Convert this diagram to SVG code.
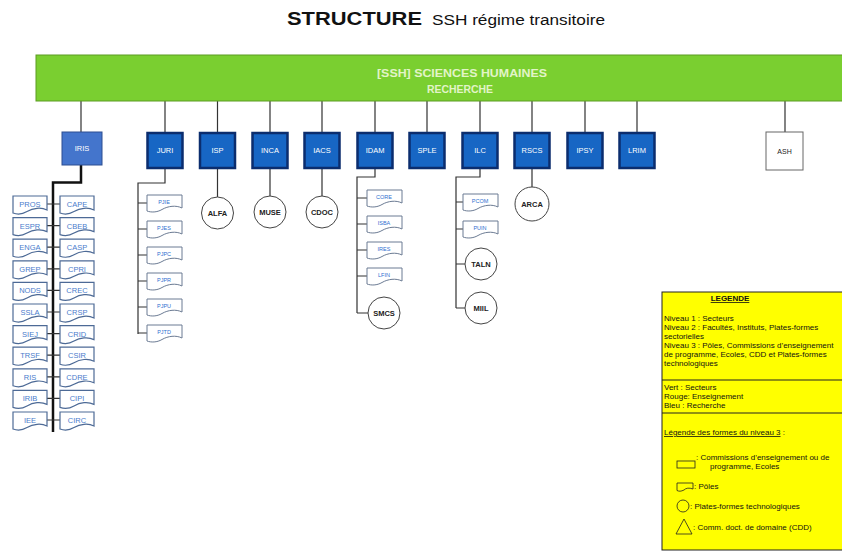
<svg xmlns="http://www.w3.org/2000/svg" xmlns:xlink="http://www.w3.org/1999/xlink" width="842" height="554" viewBox="0 0 842 554">
<style>
text{font-family:"Liberation Sans",Arial,sans-serif}
.l2{fill:#1766c4;stroke:#0b2d6e;stroke-width:2.5}
.l2t{fill:#ffffff;font-size:7.5px;text-anchor:middle}
.doc{fill:#ffffff;stroke:#4d6a96;stroke-width:1.2}
.docs{fill:#ffffff;stroke:#6b7b93;stroke-width:1}
.dt{fill:#4a7ccc;font-size:7.5px;text-anchor:middle}
.dts{fill:#2f6fd0;font-size:5.5px;text-anchor:middle}
.circ{fill:#ffffff;stroke:#444;stroke-width:1}
.ct{fill:#222;font-size:7.5px;font-weight:bold;text-anchor:middle}
.con{fill:none;stroke:#333;stroke-width:1.2}
.trunk{fill:none;stroke:#111;stroke-width:2.5}
.lg{fill:#111;font-size:8px}
</style>
<defs>
<path id="docA" d="M0 0 H34 V14 C28 11 20 12 14 15.5 C9 18.5 4 18.5 0 17 Z"/>
<path id="docB" d="M0 0 H35 V13 C29 10 21 11 15 14.5 C10 17.5 4 17.5 0 16 Z"/>
</defs>

<g id="title">
<text x="287" y="25" font-size="18" font-weight="bold" fill="#111" textLength="135" lengthAdjust="spacingAndGlyphs">STRUCTURE</text>
<text x="432" y="25" font-size="14" fill="#111" textLength="173" lengthAdjust="spacingAndGlyphs">SSH régime transitoire</text>
</g>

<g id="connectors">
<path class="con" d="M81 101 V132 M165 101 V133 M217.5 101 V133 M270 101 V133 M322 101 V133 M375 101 V133 M427 101 V133 M480 101 V133 M532 101 V133 M585 101 V133 M637 101 V133 M785 101 V132"/>
<path class="trunk" d="M81 165 V182.5 H53 V432"/>
<path class="con" d="M47 204 H60 M47 225.6 H60 M47 247.2 H60 M47 268.8 H60 M47 290.4 H60 M47 312 H60 M47 333.6 H60 M47 355.2 H60 M47 376.8 H60 M47 398.4 H60 M47 420 H60"/>
<path class="con" d="M165 168 V183 H138 V334 M138 203 H147 M138 229 H147 M138 255 H147 M138 281 H147 M138 307 H147 M138 333 H147"/>
<path class="con" d="M217.5 168 V197 M270 168 V196 M322 168 V196 M532 168 V187"/>
<path class="con" d="M375 168 V177 H357 V313 M357 198 H367 M357 224 H367 M357 250 H367 M357 276 H367 M357 313 H368"/>
<path class="con" d="M480 168 V177 H456 V308 M456 202 H463 M456 229 H463 M456 264 H465 M456 308 H465"/>
</g>

<g id="bar">
<rect x="36" y="55" width="810" height="46" fill="#7acf30" stroke="#5c9c22" stroke-width="1"/>
<text x="462" y="77" font-size="11" font-weight="bold" fill="#e2f4c8" text-anchor="middle" textLength="170" lengthAdjust="spacingAndGlyphs">[SSH] SCIENCES HUMAINES</text>
<text x="460" y="93" font-size="11" font-weight="bold" fill="#e2f4c8" text-anchor="middle" textLength="66" lengthAdjust="spacingAndGlyphs">RECHERCHE</text>
</g>

<g id="IRIS"><rect x="62" y="132" width="40" height="33" fill="#4475cc" stroke="#2c4f91" stroke-width="1"/><text x="82" y="151" class="l2t">IRIS</text></g>
<g id="JURI"><rect class="l2" x="147.5" y="133" width="35" height="35"/><text class="l2t" x="165" y="153">JURI</text></g>
<g id="ISP"><rect class="l2" x="200" y="133" width="35" height="35"/><text class="l2t" x="217.5" y="153">ISP</text></g>
<g id="INCA"><rect class="l2" x="252.5" y="133" width="35" height="35"/><text class="l2t" x="270" y="153">INCA</text></g>
<g id="IACS"><rect class="l2" x="304.5" y="133" width="35" height="35"/><text class="l2t" x="322" y="153">IACS</text></g>
<g id="IDAM"><rect class="l2" x="357.5" y="133" width="35" height="35"/><text class="l2t" x="375" y="153">IDAM</text></g>
<g id="SPLE"><rect class="l2" x="409.5" y="133" width="35" height="35"/><text class="l2t" x="427" y="153">SPLE</text></g>
<g id="ILC"><rect class="l2" x="462.5" y="133" width="35" height="35"/><text class="l2t" x="480" y="153">ILC</text></g>
<g id="RSCS"><rect class="l2" x="514.5" y="133" width="35" height="35"/><text class="l2t" x="532" y="153">RSCS</text></g>
<g id="IPSY"><rect class="l2" x="567.5" y="133" width="35" height="35"/><text class="l2t" x="585" y="153">IPSY</text></g>
<g id="LRIM"><rect class="l2" x="619.5" y="133" width="35" height="35"/><text class="l2t" x="637" y="153">LRIM</text></g>
<g id="ASH"><rect x="766" y="132" width="37" height="38" fill="#ffffff" stroke="#666" stroke-width="1"/><text x="784.5" y="154" font-size="7" fill="#222" text-anchor="middle">ASH</text></g>

<g id="PROS"><use href="#docA" x="13" y="196" class="doc"/><text class="dt" x="30" y="207">PROS</text></g>
<g id="ESPR"><use href="#docA" x="13" y="217.6" class="doc"/><text class="dt" x="30" y="228.6">ESPR</text></g>
<g id="ENGA"><use href="#docA" x="13" y="239.2" class="doc"/><text class="dt" x="30" y="250.2">ENGA</text></g>
<g id="GREP"><use href="#docA" x="13" y="260.8" class="doc"/><text class="dt" x="30" y="271.8">GREP</text></g>
<g id="NODS"><use href="#docA" x="13" y="282.4" class="doc"/><text class="dt" x="30" y="293.4">NODS</text></g>
<g id="SSLA"><use href="#docA" x="13" y="304" class="doc"/><text class="dt" x="30" y="315">SSLA</text></g>
<g id="SIEJ"><use href="#docA" x="13" y="325.6" class="doc"/><text class="dt" x="30" y="336.6">SIEJ</text></g>
<g id="TRSF"><use href="#docA" x="13" y="347.2" class="doc"/><text class="dt" x="30" y="358.2">TRSF</text></g>
<g id="RIS"><use href="#docA" x="13" y="368.8" class="doc"/><text class="dt" x="30" y="379.8">RIS</text></g>
<g id="IRIB"><use href="#docA" x="13" y="390.4" class="doc"/><text class="dt" x="30" y="401.4">IRIB</text></g>
<g id="IEE"><use href="#docA" x="13" y="412" class="doc"/><text class="dt" x="30" y="423">IEE</text></g>
<g id="CAPE"><use href="#docA" x="60" y="196" class="doc"/><text class="dt" x="77" y="207">CAPE</text></g>
<g id="CBEB"><use href="#docA" x="60" y="217.6" class="doc"/><text class="dt" x="77" y="228.6">CBEB</text></g>
<g id="CASP"><use href="#docA" x="60" y="239.2" class="doc"/><text class="dt" x="77" y="250.2">CASP</text></g>
<g id="CPRI"><use href="#docA" x="60" y="260.8" class="doc"/><text class="dt" x="77" y="271.8">CPRI</text></g>
<g id="CREC"><use href="#docA" x="60" y="282.4" class="doc"/><text class="dt" x="77" y="293.4">CREC</text></g>
<g id="CRSP"><use href="#docA" x="60" y="304" class="doc"/><text class="dt" x="77" y="315">CRSP</text></g>
<g id="CRID"><use href="#docA" x="60" y="325.6" class="doc"/><text class="dt" x="77" y="336.6">CRID</text></g>
<g id="CSIR"><use href="#docA" x="60" y="347.2" class="doc"/><text class="dt" x="77" y="358.2">CSIR</text></g>
<g id="CDRE"><use href="#docA" x="60" y="368.8" class="doc"/><text class="dt" x="77" y="379.8">CDRE</text></g>
<g id="CIPI"><use href="#docA" x="60" y="390.4" class="doc"/><text class="dt" x="77" y="401.4">CIPI</text></g>
<g id="CIRC"><use href="#docA" x="60" y="412" class="doc"/><text class="dt" x="77" y="423">CIRC</text></g>

<g id="PJIE"><use href="#docB" x="147" y="195" class="docs"/><text class="dts" x="164" y="204">PJIE</text></g>
<g id="PJES"><use href="#docB" x="147" y="221" class="docs"/><text class="dts" x="164" y="230">PJES</text></g>
<g id="PJPC"><use href="#docB" x="147" y="247" class="docs"/><text class="dts" x="164" y="256">PJPC</text></g>
<g id="PJPR"><use href="#docB" x="147" y="273" class="docs"/><text class="dts" x="164" y="282">PJPR</text></g>
<g id="PJPU"><use href="#docB" x="147" y="299" class="docs"/><text class="dts" x="164" y="308">PJPU</text></g>
<g id="PJTD"><use href="#docB" x="147" y="325" class="docs"/><text class="dts" x="164" y="334">PJTD</text></g>

<g id="ALFA"><circle class="circ" cx="217.5" cy="213" r="16"/><text class="ct" x="217.5" y="215.5">ALFA</text></g>
<g id="MUSE"><circle class="circ" cx="270" cy="212" r="16"/><text class="ct" x="270" y="214.5">MUSE</text></g>
<g id="CDOC"><circle class="circ" cx="322" cy="212" r="16"/><text class="ct" x="322" y="214.5">CDOC</text></g>
<g id="ARCA"><circle class="circ" cx="532" cy="204" r="17"/><text class="ct" x="532" y="206.5">ARCA</text></g>

<g id="CORE"><use href="#docB" x="367" y="190" class="docs"/><text class="dts" x="384" y="199">CORE</text></g>
<g id="ISBA"><use href="#docB" x="367" y="216" class="docs"/><text class="dts" x="384" y="225">ISBA</text></g>
<g id="IRES"><use href="#docB" x="367" y="242" class="docs"/><text class="dts" x="384" y="251">IRES</text></g>
<g id="LFIN"><use href="#docB" x="367" y="268" class="docs"/><text class="dts" x="384" y="277">LFIN</text></g>
<g id="SMCS"><circle class="circ" cx="384" cy="313" r="16"/><text class="ct" x="384" y="315.5">SMCS</text></g>

<g id="PCOM"><use href="#docB" x="463" y="194" class="docs"/><text class="dts" x="480" y="203">PCOM</text></g>
<g id="PUIN"><use href="#docB" x="463" y="221" class="docs"/><text class="dts" x="480" y="230">PUIN</text></g>
<g id="TALN"><circle class="circ" cx="481" cy="264" r="16"/><text class="ct" x="481" y="266.5">TALN</text></g>
<g id="MIIL"><circle class="circ" cx="481" cy="308" r="16"/><text class="ct" x="481" y="310.5">MIIL</text></g>

<g id="legende">
<rect x="662" y="292" width="185" height="258" fill="#ffff00" stroke="#222" stroke-width="1"/>
<line x1="662" y1="380" x2="842" y2="380" stroke="#222" stroke-width="1"/>
<line x1="662" y1="413" x2="842" y2="413" stroke="#222" stroke-width="1"/>
<text x="730" y="301" class="lg" font-weight="bold" text-anchor="middle" text-decoration="underline">LEGENDE</text>
<text x="664" y="321" class="lg">Niveau 1 : Secteurs</text>
<text x="664" y="330" class="lg">Niveau 2 : Facultés, Instituts, Plates-formes</text>
<text x="664" y="339" class="lg">sectorielles</text>
<text x="664" y="348" class="lg">Niveau 3 : Pôles, Commissions d’enseignement</text>
<text x="664" y="357" class="lg">de programme, Ecoles,  CDD et Plates-formes</text>
<text x="664" y="366" class="lg">technologiques</text>
<text x="664" y="390" class="lg">Vert : Secteurs</text>
<text x="664" y="399" class="lg">Rouge: Enseignement</text>
<text x="664" y="408" class="lg">Bleu : Recherche</text>
<text x="664" y="435" class="lg"><tspan text-decoration="underline">Légende des formes du niveau 3</tspan> :</text>
<rect x="677" y="461" width="18" height="7" fill="none" stroke="#222" stroke-width="0.8"/>
<text x="696" y="460" class="lg">: Commissions d’enseignement ou de</text>
<text x="710" y="469" class="lg">programme, Ecoles</text>
<path d="M677 483 H693 V489 C689 487.5 686 488 684 490 C681 491.5 679 491.5 677 490.5 Z" fill="none" stroke="#222" stroke-width="0.8"/>
<text x="694" y="489" class="lg">: Pôles</text>
<circle cx="683" cy="506" r="6" fill="none" stroke="#222" stroke-width="0.8"/>
<text x="690" y="508.5" class="lg">: Plates-formes technologiques</text>
<path d="M684 519 L676 534 H692 Z" fill="none" stroke="#222" stroke-width="0.8"/>
<text x="693" y="530" class="lg">: Comm. doct. de domaine (CDD)</text>
</g>
</svg>
